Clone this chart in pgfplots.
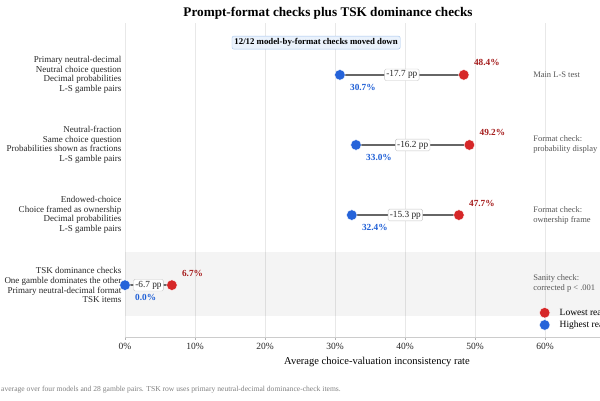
\documentclass[border=0pt]{standalone}
\usepackage{fontspec}
\setmainfont{Liberation Serif}
\usepackage{pgfplots}
\pgfplotsset{compat=1.18}
\definecolor{myred}{HTML}{D62728}
\definecolor{myblue}{HTML}{2563D9}
\definecolor{darkred}{HTML}{A51C1C}
\definecolor{lblue}{HTML}{1F5FD6}
\definecolor{seg}{HTML}{666666}
\definecolor{annot}{HTML}{555555}
\definecolor{boxfill}{HTML}{EAF2FC}
\definecolor{boxdraw}{HTML}{A4C4EC}
\begin{document}
\begin{tikzpicture}
\begin{axis}[
 scale only axis, width=504pt, height=314pt,
 at={(125pt,63pt)}, anchor=south west,
 xmin=0, xmax=72, ymin=-0.74, ymax=3.74, y dir=reverse,
 axis x line*=bottom, axis y line*=left,
 y axis line style={draw=none},
 x axis line style={draw=gray!40},
 xtick={0,10,...,60},
 xticklabels={0\%,10\%,20\%,30\%,40\%,50\%,60\%},
 tick align=outside, xtick style={draw=gray!60}, major tick length=3pt,
 ytick={0,1,2,3},
 ytick style={draw=none},
 yticklabels={{Primary neutral-decimal\\Neutral choice question\\Decimal probabilities\\L-S gamble pairs},
 {Neutral-fraction\\Same choice question\\Probabilities shown as fractions\\L-S gamble pairs},
 {Endowed-choice\\Choice framed as ownership\\Decimal probabilities\\L-S gamble pairs},
 {TSK dominance checks\\One gamble dominates the other\\Primary neutral-decimal format\\TSK items}},
 yticklabel style={align=right, font=\fontsize{9}{9.6}\selectfont, text=black!85, xshift=3pt},
 xticklabel style={font=\fontsize{9.5}{12}\selectfont, text=black!85},
 xlabel={Average choice-valuation inconsistency rate},
 xlabel style={font=\fontsize{10.5}{12}\selectfont},
 xmajorgrids, grid style={draw=gray!18, line width=0.8pt},
 /pgf/number format/assume math mode=true,
 legend style={at={(0.8145,0.1036)}, anchor=north west, draw=none, fill=none,
   font=\fontsize{9.5}{11}\selectfont, row sep=0pt},
 legend cell align=left,
 legend image code/.code={\path[draw=none, fill=none] (-6pt,0pt) -- (13pt,0pt); \draw[#1, draw=none] plot coordinates {(0pt,0pt)};},
]
\addplot[fill=black, fill opacity=0.045, draw=none, forget plot]
  coordinates {(0,2.53) (72,2.53) (72,3.44) (0,3.44)} -- cycle;
% segments
\addplot[seg, line width=2.3pt, forget plot] coordinates {(30.7,0) (48.4,0)};
\addplot[seg, line width=2.3pt, forget plot] coordinates {(33.0,1) (49.2,1)};
\addplot[seg, line width=2.3pt, forget plot] coordinates {(32.4,2) (47.7,2)};
\addplot[seg, line width=2.3pt, forget plot] coordinates {(0.0,3) (6.7,3)};
% pp labels
\addplot[only marks, mark=*, mark size=0.1pt, mark options={draw=none, fill=none}, forget plot, point meta=explicit,
  nodes near coords={\pgfmathprintnumber[fixed,precision=1,fixed zerofill]{\pgfplotspointmeta} pp},
  nodes near coords style={anchor=center, fill=white, draw=gray!45, rounded corners=1.5pt,
    inner sep=1.8pt, font=\fontsize{9.3}{11}\selectfont, text=black!85}]
  coordinates {(39.55,0) [-17.7] (41.1,1) [-16.2] (40.05,2) [-15.3] (3.35,3) [-6.7]};
% red points
\addplot[only marks, mark=*, mark size=5.3pt, mark options={fill=myred, draw=white, line width=0.4pt},
  point meta=x,
  nodes near coords={\pgfmathprintnumber[fixed,precision=1,fixed zerofill]{\pgfplotspointmeta}\%},
  nodes near coords style={anchor=west, inner sep=0pt, xshift=10pt, yshift=12pt,
    font=\bfseries\fontsize{9.3}{11}\selectfont, text=darkred}]
  coordinates {(48.4,0) (49.2,1) (47.7,2) (6.7,3)};
\addlegendentry{Lowest reasoning effort}
% blue points
\addplot[only marks, mark=*, mark size=5.3pt, mark options={fill=myblue, draw=white, line width=0.4pt},
  point meta=x,
  nodes near coords={\pgfmathprintnumber[fixed,precision=1,fixed zerofill]{\pgfplotspointmeta}\%},
  nodes near coords style={anchor=west, inner sep=0pt, xshift=10pt, yshift=-12.5pt,
    font=\bfseries\fontsize{9.3}{11}\selectfont, text=lblue}]
  coordinates {(30.7,0) (33.0,1) (32.4,2) (0.0,3)};
\addlegendentry{Highest reasoning effort}
% right annotations
\node[anchor=west, align=left, inner sep=0pt, font=\fontsize{8.5}{10}\selectfont, text=annot] at (axis cs:58.3,0) {Main L-S test};
\node[anchor=west, align=left, inner sep=0pt, font=\fontsize{8.5}{10}\selectfont, text=annot] at (axis cs:58.3,1) {Format check:\\probability display};
\node[anchor=west, align=left, inner sep=0pt, font=\fontsize{8.5}{10}\selectfont, text=annot] at (axis cs:58.3,2) {Format check:\\ownership frame};
\node[anchor=west, align=left, inner sep=0pt, font=\fontsize{8.5}{10}\selectfont, text=annot] at (axis cs:58.3,2.98) {Sanity check:\\corrected p < .001};
% highlight box
\node[fill=boxfill, draw=boxdraw, rounded corners=2pt, inner xsep=2.5pt, inner ysep=2.5pt,
  font=\bfseries\fontsize{8.8}{11}\selectfont] at (axis cs:27.3,-0.46) {12/12 model-by-format checks moved down};
\end{axis}
\node[font=\bfseries\fontsize{13.2}{16}\selectfont] at (328pt,387pt) {Prompt-format checks plus TSK dominance checks};
\node[anchor=west, inner sep=0pt, font=\fontsize{7.6}{9}\selectfont, text=gray] at (1pt,10pt) {average over four models and 28 gamble pairs. TSK row uses primary neutral-decimal dominance-check items.};
\pgfresetboundingbox
\useasboundingbox (0pt,0pt) rectangle (600pt,400pt);
\end{tikzpicture}
\end{document}
